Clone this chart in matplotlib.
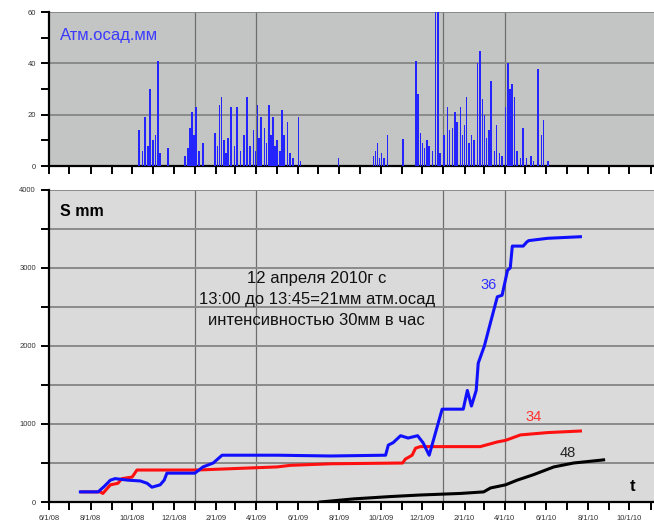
import matplotlib
matplotlib.use("Agg")
import matplotlib.pyplot as plt
import matplotlib.dates as mdates
from matplotlib.ticker import FuncFormatter, MultipleLocator
import pandas as pd

START = pd.Timestamp("2008-06-01")
END = pd.Timestamp("2010-11-06")

# Daily precipitation spikes (day offset from START, mm)
rain_day = [132, 137, 141, 145, 148, 153, 156, 160, 163, 175, 200, 204, 207, 210, 213,
            216, 220, 226, 244, 247, 250, 253, 257, 260, 263, 267, 272, 276, 281, 286,
            291, 295, 300, 303, 306, 308, 311, 316, 319, 323, 326, 329, 332, 335, 339,
            342, 345, 350, 354, 358, 366, 369, 425, 476, 479, 482, 485, 488, 492, 497,
            520, 539, 542, 545, 548, 551, 555, 558, 563, 567, 571, 574, 580, 585, 588,
            592, 596, 599, 604, 607, 610, 613, 616, 620, 624, 629, 633, 636, 639, 642,
            646, 649, 654, 657, 661, 665, 670, 674, 677, 680, 683, 687, 692, 696, 701,
            707, 711, 718, 723, 726, 732]
rain_mm = [14, 6, 19, 8, 30, 10, 12, 41, 5, 7, 4, 7, 15, 21, 12,
           23, 6, 9, 13, 8, 24, 27, 10, 5, 11, 23, 8, 23, 6, 12,
           27, 8, 14, 6, 24, 11, 19, 15, 9, 24, 12, 19, 8, 10, 6,
           22, 12, 17, 5, 3, 19, 2, 3, 4, 6, 9, 3, 5, 3, 12,
           10.5, 41, 28, 13, 9, 7, 10, 8, 6, 60, 60, 5, 12, 23, 14,
           15, 21, 17, 23, 12, 16, 27, 9, 12, 10, 40, 45, 26, 20, 11,
           14, 33, 6, 16, 5, 4, 23, 40, 30, 32, 27, 6, 3, 15, 3,
           4, 2, 38, 12, 18, 2]

# Settlement curves S (mm) for points 36, 34, 48
s36_day = [46, 72, 81, 90, 97, 116, 134, 144, 151, 163, 169, 173, 214, 226, 241, 254,
           335, 413, 494, 498, 505, 516, 527, 541, 549, 558, 577, 608, 614, 620, 627,
           630, 639, 648, 658, 665, 673, 677, 680, 696, 701, 704, 732, 780]
s36_mm = [130, 130, 200, 280, 300, 280, 270, 240, 190, 220, 280, 370, 370, 450, 500, 600,
          600, 590, 600, 730, 760, 850, 820, 850, 760, 600, 1190, 1190, 1430, 1230, 1430,
          1780, 2000, 2300, 2630, 2650, 2970, 3000, 3280, 3280, 3330, 3350, 3380, 3400]

s34_day = [48, 75, 79, 90, 101, 107, 122, 129, 217, 335, 354, 413, 519, 523, 533, 538,
           545, 633, 658, 670, 692, 732, 780]
s34_mm = [130, 130, 110, 220, 240, 300, 320, 410, 410, 450, 470, 490, 500, 550, 600, 690,
          710, 710, 770, 790, 860, 890, 910]

s48_day = [398, 447, 501, 545, 604, 638, 648, 670, 687, 711, 741, 770, 814]
s48_mm = [0, 40, 70, 90, 110, 130, 180, 220, 280, 350, 450, 500, 540]

annotation = "12 апреля 2010г с\n13:00 до 13:45=21мм атм.осад\nинтенсивностью 30мм в час"
grid_dates = ["2009-01-01", "2009-04-01", "2010-01-01", "2010-04-01"]


def to_dates(days):
    return START + pd.to_timedelta(days, unit="D")


def date_fmt(x, pos):
    d = mdates.num2date(x)
    return f"{d.month}/{d.day}/{d.year % 100:02d}"


plt.rcParams["font.family"] = ["Liberation Sans", "DejaVu Sans"]

fig = plt.figure(figsize=(6.54, 5.29), dpi=100)
fig.patch.set_facecolor("white")

ax1 = fig.add_axes([0.075, 0.686, 0.925, 0.291])
ax2 = fig.add_axes([0.075, 0.051, 0.925, 0.590])

ax1.set_facecolor("#c3c4c4")
ax2.set_facecolor("#dadada")

for ax in (ax1, ax2):
    ax.set_xlim(START, END)
    for sp in ("top", "right"):
        ax.spines[sp].set_visible(False)
    for sp in ("left", "bottom"):
        ax.spines[sp].set_linewidth(1.6)
        ax.spines[sp].set_color("black")
    ax.xaxis.set_major_locator(mdates.MonthLocator(bymonth=[2, 4, 6, 8, 10, 12]))
    ax.xaxis.set_minor_locator(mdates.MonthLocator())
    ax.tick_params(axis="x", which="both", length=6, width=1.4, direction="out",
                   color="black")
    ax.tick_params(axis="y", which="both", length=6, width=1.4, direction="out",
                   color="black")
    ax.tick_params(labelsize=5.5, labelcolor="#333333")
    for gd in grid_dates:
        ax.axvline(pd.Timestamp(gd), color="#6e6e6e", lw=0.9, zorder=1)

# Top panel: precipitation
ax1.set_ylim(0, 60)
ax1.yaxis.set_major_locator(MultipleLocator(20))
ax1.yaxis.set_minor_locator(MultipleLocator(10))
ax1.xaxis.set_major_formatter(FuncFormatter(lambda x, p: ""))
for gy in (20, 40, 60):
    ax1.axhline(gy, color="#8a8a8a", lw=1.4, zorder=1)
ax1.bar(to_dates(rain_day), rain_mm, width=2.4, color="#2424ff", zorder=3,
        linewidth=0)
ax1.text(0.018, 0.85, "Атм.осад.мм", transform=ax1.transAxes, color="#3a3aff",
         fontsize=12, ha="left", va="center")

# Bottom panel: settlement
ax2.set_ylim(0, 4000)
ax2.yaxis.set_major_locator(MultipleLocator(1000))
ax2.yaxis.set_minor_locator(MultipleLocator(500))
ax2.xaxis.set_major_formatter(FuncFormatter(date_fmt))
for gy in range(500, 4001, 500):
    ax2.axhline(gy, color="#8a8a8a", lw=1.4, zorder=1)

ax2.plot(to_dates(s34_day), s34_mm, color="#ff1010", lw=2.2, zorder=4)
ax2.plot(to_dates(s36_day), s36_mm, color="#1010ff", lw=2.2, zorder=5)
ax2.plot(to_dates(s48_day), s48_mm, color="black", lw=2.2, zorder=4)

ax2.text(START + pd.Timedelta(days=645), 2780, "36", color="#3030ff", fontsize=10.5,
         ha="center", va="center")
ax2.text(START + pd.Timedelta(days=711), 1090, "34", color="#ff3030", fontsize=10.5,
         ha="center", va="center")
ax2.text(START + pd.Timedelta(days=761), 630, "48", color="#222222", fontsize=10.5,
         ha="center", va="center")
ax2.text(START + pd.Timedelta(days=856), 200, "t", color="black", fontsize=12,
         fontweight="bold", ha="center", va="center")
ax2.text(0.018, 0.93, "S mm", transform=ax2.transAxes, color="black", fontsize=11.5,
         fontweight="bold", ha="left", va="center")
ax2.text(START + pd.Timedelta(days=393), 2600, annotation, color="#111111",
         fontsize=12, ha="center", va="center", linespacing=1.5)

fig.savefig("out.png", dpi=100, facecolor="white")
